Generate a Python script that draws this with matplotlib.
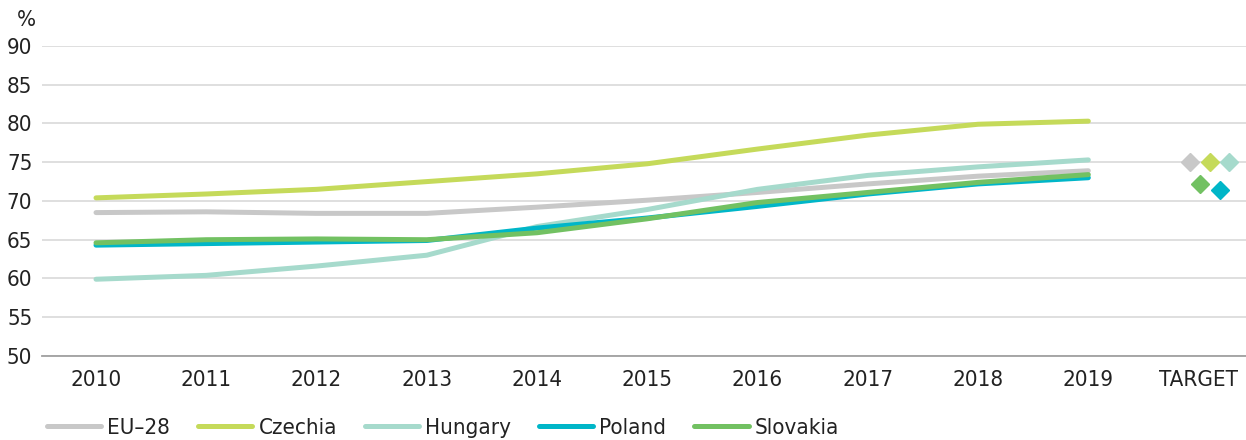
import matplotlib.pyplot as plt

# condensed DejaVu looks closer to the narrow font of the original
plt.rcParams['font.family'] = ['DejaVu Sans']
plt.rcParams['font.stretch'] = 'condensed'

years = ['2010', '2011', '2012', '2013', '2014', '2015', '2016', '2017', '2018', '2019']
eu28 = [68.5, 68.6, 68.4, 68.4, 69.2, 70.1, 71.1, 72.2, 73.2, 73.9]
czechia = [70.4, 70.9, 71.5, 72.5, 73.5, 74.8, 76.7, 78.5, 79.9, 80.3]
hungary = [59.9, 60.4, 61.6, 63.0, 66.7, 68.9, 71.5, 73.3, 74.4, 75.3]
poland = [64.3, 64.5, 64.7, 64.9, 66.5, 67.8, 69.3, 70.9, 72.2, 73.0]
slovakia = [64.6, 65.0, 65.1, 65.0, 65.9, 67.7, 69.8, 71.1, 72.4, 73.4]

target_eu28 = 75
target_czechia = 75
target_hungary = 75
target_poland = 71.4
target_slovakia = 72.2

names_s = ['EU\u201328', 'Czechia', 'Hungary', 'Poland', 'Slovakia']
colors = ['#c8c8c8', '#c5da5a', '#a6dacc', '#00b6c8', '#72c162']

fig = plt.figure(figsize=(12.46, 4.4), dpi=100)
ax = fig.add_axes([0.0337, 0.191, 0.9663, 0.7045])

x = list(range(len(years)))
series = [eu28, czechia, hungary, poland, slovakia]
for vals, name, c in zip(series, names_s, colors):
    ax.plot(x, vals, color=c, lw=3.6, solid_capstyle='round', label=name, zorder=3)

# target diamonds, two rows
tx = len(years)
targets = [target_eu28, target_czechia, target_hungary, target_poland, target_slovakia]
offsets = [-0.08, 0.10, 0.28, 0.19, 0.01]
for t, off, c in zip(targets, offsets, colors):
    ax.plot(tx + off, t, marker='D', color=c, markersize=9.5, ls='none', zorder=3)

ax.set_xlim(-0.49, 10.43)
ax.set_ylim(50, 90)
ax.set_yticks(range(50, 91, 5))
ax.set_xticks(x + [tx])
ax.set_xticklabels(years + ['TARGET'])
ax.grid(axis='y', color='#d9d9d9', lw=1.2, zorder=0)
ax.tick_params(length=0, labelsize=16, colors='#222222')
ax.tick_params(axis='x', pad=10)
ax.tick_params(axis='y', pad=7)
for s in ['top', 'right', 'left']:
    ax.spines[s].set_visible(False)
ax.spines['bottom'].set_color('#a0a0a0')
ax.spines['bottom'].set_linewidth(1.3)

fig.text(0.021, 0.955, '%', fontsize=16, color='#222222', ha='center', va='center')

fig.legend(loc='center left', bbox_to_anchor=(0.0305, 0.027), ncol=5, frameon=False,
           fontsize=16, handlelength=2.45, handletextpad=0.27, columnspacing=1.25,
           labelcolor='#222222', borderaxespad=0)

plt.savefig('out.png', dpi=100)
